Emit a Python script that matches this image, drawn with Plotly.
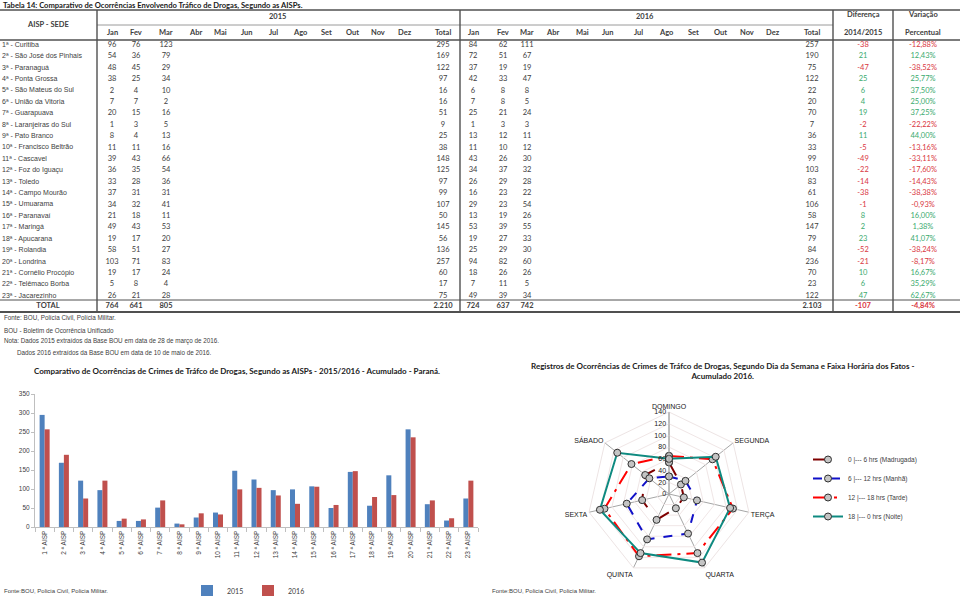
import plotly.graph_objects as go

# ---------------- data ----------------
aisp_sede = ["1ª - Curitiba", "2ª - São José dos Pinhais", "3ª - Paranaguá", "4ª - Ponta Grossa",
             "5ª - São Mateus do Sul", "6ª - União da Vitoria", "7ª - Guarapuava", "8ª - Laranjeiras do Sul",
             "9ª - Pato Branco", "10ª - Francisco Beltrão", "11ª - Cascavel", "12ª - Foz do Iguaçu",
             "13ª - Toledo", "14ª - Campo Mourão", "15ª - Umuarama", "16ª - Paranavaí", "17ª - Maringá",
             "18ª - Apucarana", "19ª - Rolandia", "20ª - Londrina", "21ª - Cornélio Procópio",
             "22ª - Telêmaco Borba", "23ª - Jacarezinho"]
aisp_short = ["1 ª AISP", "2 ª AISP", "3 ª AISP", "4 ª AISP", "5 ª AISP", "6 ª AISP", "7 ª AISP", "8 ª AISP",
              "9 ª AISP", "10 ª AISP", "11 ª AISP", "12 ª AISP", "13 ª AISP", "14 ª AISP", "15 ª AISP",
              "16 ª AISP", "17 ª AISP", "18 ª AISP", "19 ª AISP", "20 ª AISP", "21 ª AISP", "22 ª AISP", "23 ª AISP"]
months = ["Jan", "Fev", "Mar", "Abr", "Mai", "Jun", "Jul", "Ago", "Set", "Out", "Nov", "Dez"]

jan_2015 = [96, 54, 48, 38, 2, 7, 20, 1, 8, 11, 39, 36, 33, 37, 34, 21, 49, 19, 58, 103, 19, 5, 26]
fev_2015 = [76, 36, 45, 25, 4, 7, 15, 3, 4, 11, 43, 35, 28, 31, 32, 18, 43, 17, 51, 71, 17, 8, 21]
mar_2015 = [123, 79, 29, 34, 10, 2, 16, 5, 13, 16, 66, 54, 36, 31, 41, 11, 53, 20, 27, 83, 24, 4, 28]
total_2015 = [295, 169, 122, 97, 16, 16, 51, 9, 25, 38, 148, 125, 97, 99, 107, 50, 145, 56, 136, 257, 60, 17, 75]

jan_2016 = [84, 72, 37, 42, 6, 7, 25, 1, 13, 11, 43, 34, 26, 16, 29, 13, 53, 19, 25, 94, 18, 7, 49]
fev_2016 = [62, 51, 19, 33, 8, 8, 21, 3, 12, 10, 26, 37, 29, 23, 23, 19, 39, 27, 29, 82, 26, 11, 39]
mar_2016 = [111, 67, 19, 47, 8, 5, 24, 3, 11, 12, 30, 32, 28, 22, 54, 26, 55, 33, 30, 60, 26, 5, 34]
total_2016 = [257, 190, 75, 122, 22, 20, 70, 7, 36, 33, 99, 103, 83, 61, 106, 58, 147, 79, 84, 236, 70, 23, 122]

diferenca = [-38, 21, -47, 25, 6, 4, 19, -2, 11, -5, -49, -22, -14, -38, -1, 8, 2, 23, -52, -21, 10, 6, 47]
variacao = ["-12,88%", "12,43%", "-38,52%", "25,77%", "37,50%", "25,00%", "37,25%", "-22,22%", "44,00%",
            "-13,16%", "-33,11%", "-17,60%", "-14,43%", "-38,38%", "-0,93%", "16,00%", "1,38%", "41,07%",
            "-38,24%", "-8,17%", "16,67%", "35,29%", "62,67%"]

total_row_2015 = ["764", "641", "805"]
total_sum_2015 = "2.210"
total_row_2016 = ["724", "637", "742"]
total_sum_2016 = "2.103"
total_diferenca = "-107"
total_variacao = "-4,84%"

dias = ["DOMINGO", "SEGUNDA", "TERÇA", "QUARTA", "QUINTA", "SEXTA", "SÁBADO"]
madrugada = [54, 26, 26, 27, 49, 47, 52]
manha = [30, 36, 49, 75, 86, 74, 43]
tarde = [65, 95, 112, 112, 118, 113, 82]
noite = [60, 102, 107, 130, 112, 121, 113]
faixas = ["0 |--- 6 hrs (Madrugada)", "6 |--- 12 hrs (Manhã)", "12 |--- 18 hrs (Tarde)", "18 |--- 0 hrs (Noite)"]

# ---------------- layout helpers ----------------
W, H = 960, 596
def px(x):
    return x / W
def py(y):
    return 1 - y / H

ARIAL = "Liberation Sans, Arial, sans-serif"
CALIBRI = "Lato, Calibri, sans-serif"
TXT = "#404040"
RED = "#D9363E"
GREEN = "#3AAA6E"

ROW0, ROW_H = 45.0, 11.41        # pixel centre of first body row, row pitch
COLX_2015 = [112, 136, 166, 195, 220, 247, 273, 300, 326, 352, 378, 405]
COLX_2016 = [473, 503, 527, 552, 582, 608, 638, 666, 693, 720, 747, 773]
X_TOT15, X_TOT16, X_DIF, X_VAR = 443, 812, 863, 923
TOTAL_ROW = 22.85

fig = go.Figure()

# ---------------- table (text drawn on a hidden axis) ----------------
n = len(aisp_sede)
rows = list(range(n))
fig.add_trace(go.Scatter(x=[2] * n, y=rows, text=aisp_sede, mode="text", textposition="middle right",
                         textfont=dict(family=ARIAL, size=7, color=TXT), xaxis="x2", yaxis="y2",
                         showlegend=False, hoverinfo="skip", cliponaxis=False))

num_cols = [(COLX_2015[0], jan_2015), (COLX_2015[1], fev_2015), (COLX_2015[2], mar_2015), (X_TOT15, total_2015),
            (COLX_2016[0], jan_2016), (COLX_2016[1], fev_2016), (COLX_2016[2], mar_2016), (X_TOT16, total_2016)]
xs, ys, ts = [], [], []
for cx, vals in num_cols:
    for i, v in enumerate(vals):
        xs.append(cx); ys.append(i); ts.append(str(v))
fig.add_trace(go.Scatter(x=xs, y=ys, text=ts, mode="text", textposition="middle center",
                         textfont=dict(family=CALIBRI, size=7.5, color=TXT), xaxis="x2", yaxis="y2",
                         showlegend=False, hoverinfo="skip", cliponaxis=False))

dif_colors = [RED if d < 0 else GREEN for d in diferenca]
fig.add_trace(go.Scatter(x=[X_DIF] * n + [X_VAR] * n, y=rows + rows,
                         text=[str(d) for d in diferenca] + variacao, mode="text", textposition="middle center",
                         textfont=dict(family=CALIBRI, size=7.5, color=dif_colors + dif_colors),
                         xaxis="x2", yaxis="y2", showlegend=False, hoverinfo="skip", cliponaxis=False))

tot_x = [48] + COLX_2015[:3] + [X_TOT15] + COLX_2016[:3] + [X_TOT16, X_DIF, X_VAR]
tot_t = ["TOTAL"] + total_row_2015 + [total_sum_2015] + total_row_2016 + [total_sum_2016, total_diferenca, total_variacao]
tot_c = [TXT] * 9 + [RED, RED]
fig.add_trace(go.Scatter(x=tot_x, y=[TOTAL_ROW] * len(tot_x), text=tot_t, mode="text", textposition="middle center",
                         textfont=dict(family=CALIBRI, size=7.5, color=tot_c, weight="bold"),
                         xaxis="x2", yaxis="y2", showlegend=False, hoverinfo="skip", cliponaxis=False))

# header texts
annotations = []
def ann(text, x, y, size=7.5, family=CALIBRI, bold=False, xanchor="center", color=TXT):
    annotations.append(dict(text=text, x=px(x), y=py(y), xref="paper", yref="paper", showarrow=False,
                            xanchor=xanchor, yanchor="middle",
                            font=dict(family=family, size=size, color=color, weight="bold" if bold else "normal")))

ann("Tabela 14: Comparativo de Ocorrências Envolvendo Tráfico de Drogas, Segundo as AISPs.", 1, 5,
    size=7.6, bold=True, xanchor="left", color="#202020")
ann("AISP - SEDE", 48, 25, bold=True)
ann("2015", 277, 17, bold=True)
ann("2016", 645, 17, bold=True)
ann("Diferença", 863, 14, bold=True)
ann("2014/2015", 863, 32, bold=True)
ann("Variação", 923, 14, bold=True)
ann("Percentual", 923, 32, bold=True)
for m, cx in zip(months + ["Total"], COLX_2015 + [X_TOT15]):
    ann(m, cx, 33, bold=True)
for m, cx in zip(months + ["Total"], COLX_2016 + [X_TOT16]):
    ann(m, cx, 33, bold=True)

ann("Fonte: BOU, Polícia Civil, Polícia Militar.", 2, 318, size=6.3, family=ARIAL, xanchor="left")
ann("BOU - Boletim de Ocorrência Unificado", 2, 330, size=6.3, family=ARIAL, xanchor="left")
ann("Nota: Dados 2015 extraídos da Base BOU em data de 28 de março de 2016.", 2, 341, size=6.3, family=ARIAL, xanchor="left")
ann("Dados 2016 extraídos da Base BOU em data de 10 de maio de 2016.", 15, 352, size=6.3, family=ARIAL, xanchor="left")

ann("Comparativo de Ocorrências de Crimes de Tráfco de Drogas, Segundo as AISPs - 2015/2016 - Acumulado - Paraná.",
    237, 371, size=8, bold=True, color="#202020")
ann("Registros de Ocorrências de Crimes de Tráfco de Drogas, Segundo Dia da Semana e Faixa Horária dos Fatos -<br>Acumulado 2016.",
    722, 371, size=8, bold=True, color="#202020")
ann("Fonte:BOU, Policia Civil, Policia Militar.", 2, 591, size=6, family=ARIAL, xanchor="left")
ann("Fonte:BOU, Policia Civil, Policia Militar.", 490, 591, size=6, family=ARIAL, xanchor="left")

# table rules
shapes = []
def hline(y, x0, x1, w=1.0, c="#505050"):
    shapes.append(dict(type="line", xref="paper", yref="paper", x0=px(x0), x1=px(x1), y0=py(y), y1=py(y),
                       line=dict(color=c, width=w)))
def vline(x, y0, y1, w=1.0, c="#505050"):
    shapes.append(dict(type="line", xref="paper", yref="paper", x0=px(x), x1=px(x), y0=py(y0), y1=py(y1),
                       line=dict(color=c, width=w)))
hline(10, 0, 960, 1.6)
hline(25, 97, 833, 0.8, "#808080")
hline(40, 0, 960, 1.4)
hline(300, 0, 960, 1.0)
hline(312, 0, 960, 2.0)
for vx in (97, 460, 833, 893):
    vline(vx, 10, 312, 1.4)

# ---------------- bar chart ----------------
fig.add_trace(go.Bar(x=aisp_short, y=total_2015, name="2015", marker=dict(color="#4F81BD", line=dict(width=0)),
                     xaxis="x", yaxis="y", legend="legend"))
fig.add_trace(go.Bar(x=aisp_short, y=total_2016, name="2016", marker=dict(color="#C0504D", line=dict(width=0)),
                     xaxis="x", yaxis="y", legend="legend"))

# ---------------- radar chart ----------------
radar_styles = [
    (madrugada, "#7F0000", "longdash"),
    (manha, "#1010C8", "dash"),
    (tarde, "#FF0000", "longdashdot"),
    (noite, "#0E8A80", "solid"),
]
for name, (vals, col, dash) in zip(faixas, radar_styles):
    fig.add_trace(go.Scatterpolar(
        r=vals + vals[:1], theta=dias + dias[:1], name=name, mode="lines+markers",
        line=dict(color=col, width=2, dash=dash),
        marker=dict(symbol="circle", size=7, color="#C4C4C4", line=dict(color="#303030", width=1)),
        legend="legend2", legendgroup=name))

fig.update_layout(
    width=W, height=H, margin=dict(l=0, r=0, t=0, b=0, pad=0, autoexpand=False),
    paper_bgcolor="white", plot_bgcolor="rgba(0,0,0,0)",
    annotations=annotations, shapes=shapes,
    barmode="group", bargap=0.48, bargroupgap=0,
    xaxis=dict(domain=[px(35), px(478)], tickangle=-90, tickfont=dict(family=ARIAL, size=6.5, color=TXT),
               showline=True, linecolor="#BFBFBF", linewidth=1, ticks="outside", tickson="boundaries",
               ticklen=4, tickcolor="#BFBFBF", showgrid=False, zeroline=False, anchor="y"),
    yaxis=dict(domain=[py(527), py(394)], range=[0, 350], dtick=50, tickfont=dict(family=ARIAL, size=6.5, color=TXT),
               showline=True, linecolor="#BFBFBF", linewidth=1, ticks="outside", ticklen=3, tickcolor="#BFBFBF",
               showgrid=False, zeroline=False, anchor="x"),
    xaxis2=dict(domain=[0, 1], range=[0, W], visible=False, anchor="y2"),
    yaxis2=dict(domain=[0, 1], range=[(H - ROW0) / ROW_H, -ROW0 / ROW_H], visible=False, anchor="x2"),
    polar=dict(
        domain=dict(x=[px(587), px(751)], y=[py(576), py(412)]),
        bgcolor="rgba(0,0,0,0)", gridshape="linear",
        angularaxis=dict(direction="clockwise", rotation=90, tickfont=dict(family=ARIAL, size=7, color="#202020"),
                         gridcolor="#A6A6A6", linecolor="#EDE4E4", showline=True, ticks=""),
        radialaxis=dict(range=[0, 140], dtick=20, angle=90, tickangle=90, side="counterclockwise",
                        tickfont=dict(family=ARIAL, size=7, color="#202020"), gridcolor="#F0E6E6",
                        showline=True, linecolor="#A6A6A6", ticks=""),
    ),
    legend=dict(orientation="h", x=px(248), xanchor="center", y=py(591), yanchor="middle",
                entrywidth=16, entrywidthmode="pixels",
                font=dict(family=CALIBRI, size=7, color=TXT), bgcolor="rgba(0,0,0,0)"),
    legend2=dict(orientation="v", x=px(808), xanchor="left", y=py(445), yanchor="top",
                 font=dict(family=ARIAL, size=6.5, color=TXT), bgcolor="rgba(0,0,0,0)",
                 traceorder="grouped", tracegroupgap=0),
    showlegend=True,
)

fig.write_html("out.html", config={"displayModeBar": False},
               post_script="document.body.style.margin='0';")
